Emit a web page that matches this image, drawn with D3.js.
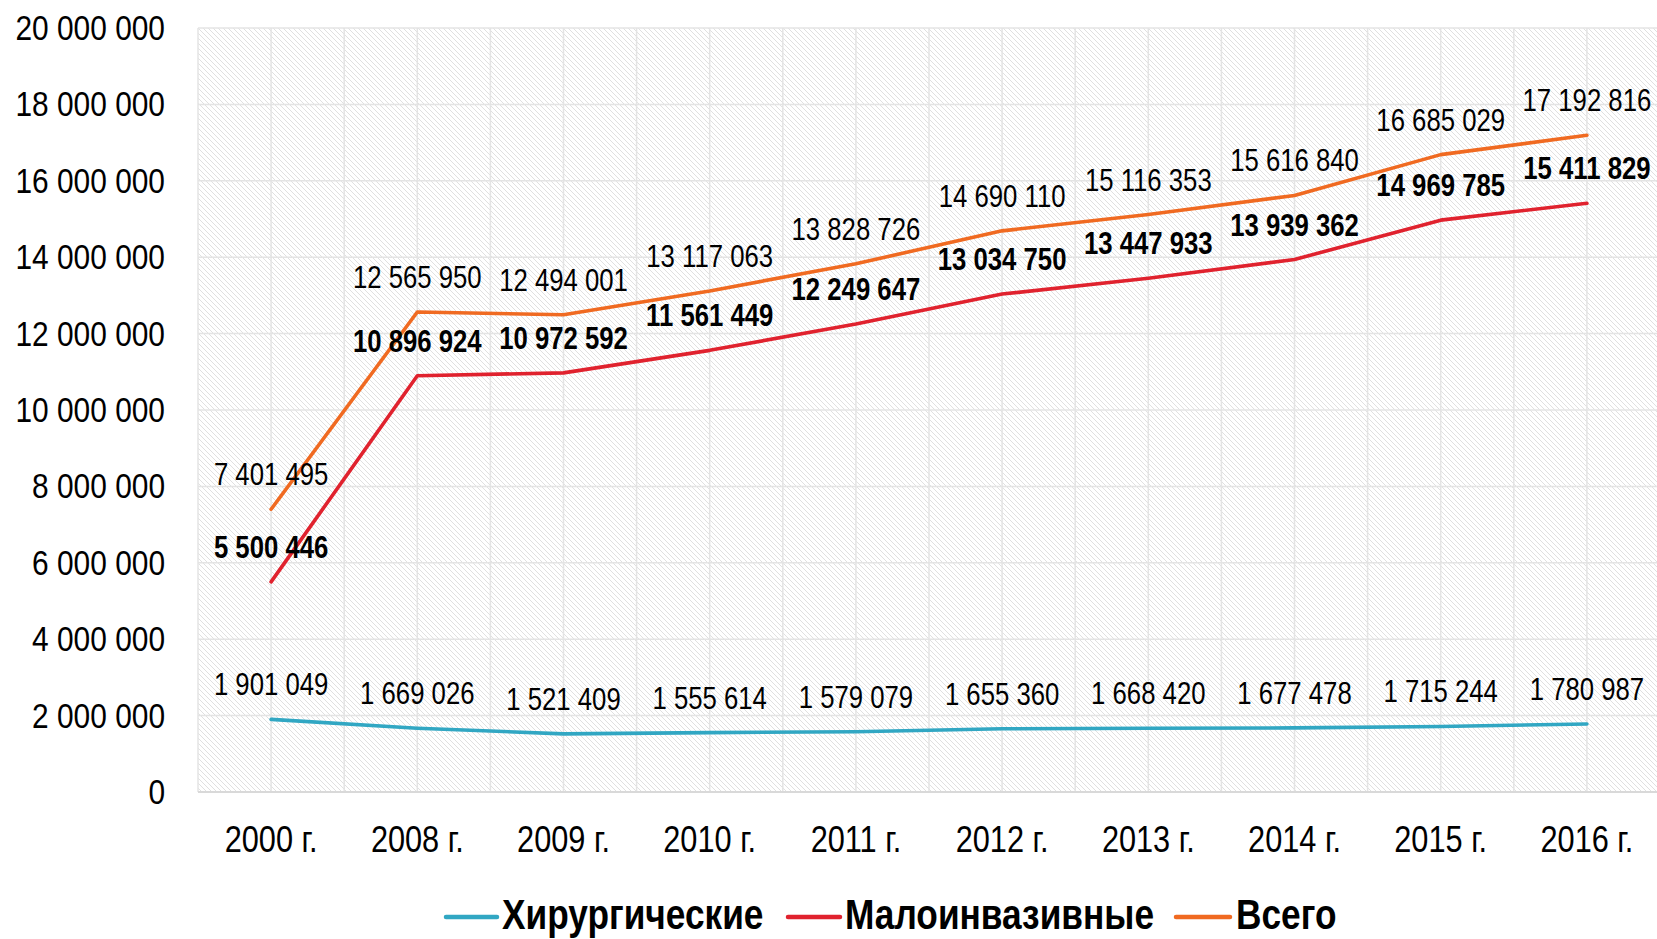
<!DOCTYPE html>
<html lang="ru">
<head>
<meta charset="UTF-8">
<title>Операции</title>
<script src="https://d3js.org/d3.v7.min.js"></script>
<style>
  body { margin: 0; background: #fff; }
  text { font-family: "Liberation Sans", Arial, sans-serif; fill: #000; }
  .grid line { stroke: #e4e4e4; stroke-width: 1.5; }
  .series { fill: none; stroke-width: 3.6; stroke-linejoin: round; stroke-linecap: round; }
</style>
</head>
<body>
<script>
const years = ["2000 г.", "2008 г.", "2009 г.", "2010 г.", "2011 г.", "2012 г.", "2013 г.", "2014 г.", "2015 г.", "2016 г."];
const surgical = [1901049, 1669026, 1521409, 1555614, 1579079, 1655360, 1668420, 1677478, 1715244, 1780987];
const minimal = [5500446, 10896924, 10972592, 11561449, 12249647, 13034750, 13447933, 13939362, 14969785, 15411829];
const total = [7401495, 12565950, 12494001, 13117063, 13828726, 14690110, 15116353, 15616840, 16685029, 17192816];
const yTicks = [0, 2000000, 4000000, 6000000, 8000000, 10000000, 12000000, 14000000, 16000000, 18000000, 20000000];

const series = [
  { name: "Хирургические", values: surgical, color: "#31a7c3", bold: false },
  { name: "Малоинвазивные", values: minimal, color: "#e0222e", bold: true },
  { name: "Всего", values: total, color: "#f06a21", bold: false }
];

const W = 1657, H = 939;
const plotL = 198, plotR = 1660, plotT = 28, plotB = 792;
const narrow = 0.83; // no narrow font installed, squeeze text horizontally

const fmt = v => d3.format(",")(v).replace(/,/g, " ");

const svg = d3.select("body").append("svg")
  .attr("width", W).attr("height", H);

const defs = svg.append("defs");
const pat = defs.append("pattern")
  .attr("id", "hatch")
  .attr("patternUnits", "userSpaceOnUse")
  .attr("width", 5).attr("height", 5);
pat.append("rect").attr("width", 5).attr("height", 5).attr("fill", "#fff");
pat.append("path")
  .attr("d", "M-1,-1 L6,6 M-1,4 L1,6 M4,-1 L6,1")
  .attr("stroke", "#e0e0e0").attr("stroke-width", 1);

const x = d3.scaleBand().domain(years).range([plotL, plotR]).padding(0);
const y = d3.scaleLinear().domain([0, 20000000]).range([plotB, plotT]);
const cx = d => x(d) + x.bandwidth() / 2;

// plot background
svg.append("rect")
  .attr("x", plotL).attr("y", plotT)
  .attr("width", plotR - plotL).attr("height", plotB - plotT)
  .attr("fill", "url(#hatch)");

// gridlines
const grid = svg.append("g").attr("class", "grid");
grid.selectAll(".h").data(yTicks).join("line")
  .attr("x1", plotL).attr("x2", plotR)
  .attr("y1", d => y(d)).attr("y2", d => y(d));
const vPos = [];
years.forEach(d => { vPos.push(x(d)); vPos.push(cx(d)); });
grid.selectAll(".v").data(vPos).join("line")
  .attr("x1", d => d).attr("x2", d => d)
  .attr("y1", plotT).attr("y2", plotB);
svg.append("line")
  .attr("x1", plotL).attr("x2", plotR)
  .attr("y1", plotB).attr("y2", plotB)
  .attr("stroke", "#d9d9d9").attr("stroke-width", 2);

// y axis
const yAxis = svg.append("g")
  .attr("transform", `translate(${plotL - 33},0)`)
  .call(d3.axisLeft(y).tickValues(yTicks).tickSize(0).tickPadding(0).tickFormat(fmt));
yAxis.select(".domain").remove();
yAxis.selectAll("text")
  .attr("font-size", 36).attr("font-family", null)
  .attr("transform", `scale(${narrow},1)`);

// x axis
const xAxis = svg.append("g")
  .attr("transform", `translate(0,${plotB})`)
  .call(d3.axisBottom(x).tickSize(0).tickPadding(0));
xAxis.select(".domain").remove();
xAxis.selectAll("text")
  .attr("font-size", 37).attr("font-family", null)
  .attr("dy", null).attr("y", 60)
  .attr("transform", `scale(${narrow},1)`);

// lines
const line = d3.line()
  .x((d, i) => cx(years[i]))
  .y(d => y(d));

svg.selectAll(".series").data(series).join("path")
  .attr("class", "series")
  .attr("stroke", d => d.color)
  .attr("d", d => line(d.values));

// data labels
series.forEach(s => {
  svg.append("g").selectAll("text").data(s.values).join("text")
    .attr("transform", (d, i) => `translate(${cx(years[i])},${y(d) - 24}) scale(${narrow},1)`)
    .attr("text-anchor", "middle")
    .attr("font-size", 31)
    .attr("font-weight", s.bold ? "bold" : "normal")
    .text(fmt);
});

// legend
const legendItems = [
  { x1: 446, x2: 497, tx: 502 },
  { x1: 788, x2: 840, tx: 845 },
  { x1: 1176, x2: 1230, tx: 1236 }
];
const lg = svg.append("g");
series.forEach((s, i) => {
  const it = legendItems[i];
  lg.append("line")
    .attr("x1", it.x1).attr("x2", it.x2)
    .attr("y1", 917).attr("y2", 917)
    .attr("stroke", s.color).attr("stroke-width", 4.5)
    .attr("stroke-linecap", "round");
  lg.append("text")
    .attr("transform", `translate(${it.tx},929) scale(0.84,1)`)
    .attr("font-size", 42).attr("font-weight", "bold")
    .text(s.name);
});
</script>
</body>
</html>
